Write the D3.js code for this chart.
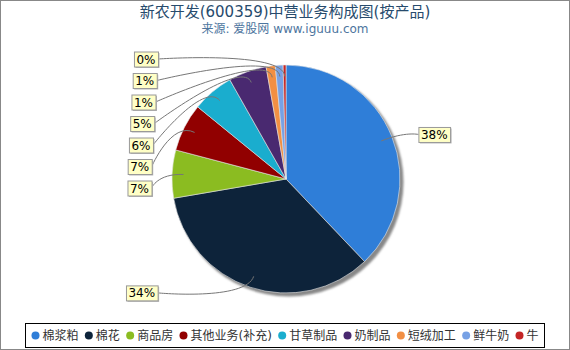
<!DOCTYPE html>
<html><head><meta charset="utf-8">
<script src="https://cdn.jsdelivr.net/npm/d3@7/dist/d3.min.js"></script>
<style>body{margin:0;background:#fff}svg{display:block}text{font-family:"DejaVu Sans","Noto Sans CJK SC",sans-serif}</style>
</head><body><svg id="c" width="570" height="350"></svg>
<script>
const titleText = "新农开发(600359)中营业务构成图(按产品)";
const subtitleText = "来源: 爱股网 www.iguuu.com";
const categories = ["棉浆粕","棉花","商品房","其他业务(补充)","甘草制品","奶制品","短绒加工","鲜牛奶","牛"];
const values = [37.9, 34.4, 6.8, 6.8, 5.9, 5.4, 1.3, 1.1, 0.4];
const colors = ["#2f7ed8","#0d233a","#8bbc21","#910000","#1aadce","#492970","#f28f43","#77a1e5","#c42525"];

const W = 570, H = 350, cx = 286, cy = 179, R = 114;
const svg = d3.select("#c");
const defs = svg.append("defs");
defs.append("filter").attr("id","blur").attr("x","-10%").attr("y","-10%").attr("width","120%").attr("height","120%")
  .append("feGaussianBlur").attr("stdDeviation",1.2);

svg.append("rect").attr("x",0.5).attr("y",0.5).attr("width",W-1).attr("height",H-1)
  .attr("fill","#fff").attr("stroke","#888").attr("stroke-width",1);

svg.append("text").attr("x",285).attr("y",17).attr("text-anchor","middle")
  .attr("font-size",15).attr("fill","#274b6d").text(titleText);
svg.append("text").attr("x",285).attr("y",33).attr("text-anchor","middle")
  .attr("font-size",12).attr("fill","#4d759e").text(subtitleText);

const total = d3.sum(values);
const pie = d3.pie().sort(null).value(d => d).startAngle(0).endAngle(2*Math.PI);
const arcs = pie(values);
const arc = d3.arc().innerRadius(0).outerRadius(R);

const g = svg.append("g").attr("transform",`translate(${cx},${cy})`);
g.append("circle").attr("cx",3).attr("cy",3).attr("r",R+0.5).attr("fill","#888").attr("filter","url(#blur)");
g.selectAll("path.s").data(arcs).enter().append("path").attr("class","s")
  .attr("d",arc).attr("fill",(d,i)=>colors[i]).attr("stroke","#e8e8e8").attr("stroke-width",0.6).attr("stroke-linejoin","round");

// label layout
const L = 120, spacing = 21.5;
const labels = arcs.map((a,i)=>{
  const mid = (a.startAngle+a.endAngle)/2;
  return {i, mid, side: Math.sin(mid) >= 0 ? 1 : -1, ny: cy - L*Math.cos(mid),
    text: Math.round(a.value/total*100) + "%"};
});
[1,-1].forEach(side=>{
  const arr = labels.filter(l=>l.side===side).sort((a,b)=>a.ny-b.ny);
  let prev = -Infinity;
  arr.forEach(l=>{ l.y = Math.max(l.ny, prev+spacing); prev = l.y; });
  const maxY = H - 40;
  let over = arr.length ? arr[arr.length-1].y - maxY : 0;
  if (over > 0) { for (let k=arr.length-1;k>=0;k--){ arr[k].y -= over; if(k>0){ const gap = arr[k].y - arr[k-1].y - spacing; over = gap < 0 ? -gap : 0; if(over===0) break; } } }
});

const pt = (ang, r) => [cx + r*Math.sin(ang), cy - r*Math.cos(ang)];
const lg = svg.append("g");
labels.forEach(l=>{
  const dy = Math.min(Math.abs(l.y-cy),120);
  const d = 21 - 7*dy/120;
  const edgeX = cx + l.side*(R + d);
  const land = pt(l.mid, 0.9*R);
  const c2 = pt(l.mid, 0.9*R + 26);
  const path = d3.path();
  path.moveTo(edgeX, l.y);
  path.bezierCurveTo(edgeX, l.y, c2[0], c2[1], land[0], land[1]);
  lg.append("path").attr("d",path.toString()).attr("fill","none").attr("stroke","#777").attr("stroke-width",1);
  const t = lg.append("text").attr("font-size",12).attr("fill","#000").text(l.text);
  const tw = t.node().getComputedTextLength();
  const bw = tw + 5, bh = 15;
  const bx = l.side > 0 ? edgeX : edgeX - bw;
  const by = l.y - bh/2;
  lg.append("rect").attr("x",bx+1.5).attr("y",by+1.5).attr("width",bw).attr("height",bh).attr("fill","#b8b8b8");
  lg.append("rect").attr("x",bx+0.5).attr("y",by+0.5).attr("width",bw).attr("height",bh)
    .attr("fill","#ffffc6").attr("stroke","#999").attr("stroke-width",1);
  t.attr("x",bx+2.5).attr("y",l.y+4.5);
  t.raise();
});

// legend
const legBox = {x:25.5, y:323.5, w:519, h:24};
svg.append("rect").attr("x",legBox.x).attr("y",legBox.y).attr("width",legBox.w).attr("height",legBox.h)
  .attr("fill","#fff").attr("stroke","#000").attr("stroke-width",1);
const leg = svg.append("g");
const textOff = 11;
const items = categories.map((c,i)=>{
  const ig = leg.append("g");
  ig.append("circle").attr("cx",4).attr("cy",0).attr("r",4).attr("fill",colors[i]);
  const t = ig.append("text").attr("x",textOff).attr("y",4.5).attr("font-size",12).attr("fill","#333").text(c);
  return {ig, w: textOff + t.node().getComputedTextLength()};
});
const inner = legBox.w - 12;
const sumW = d3.sum(items, d=>d.w);
const gap = Math.max(3, (inner - sumW)/(items.length-1));
let x = legBox.x + 6 + Math.max(0,(inner - sumW - gap*(items.length-1))/2);
items.forEach(it=>{ it.ig.attr("transform",`translate(${x},${legBox.y+legBox.h/2})`); x += it.w + gap; });
</script></body></html>
